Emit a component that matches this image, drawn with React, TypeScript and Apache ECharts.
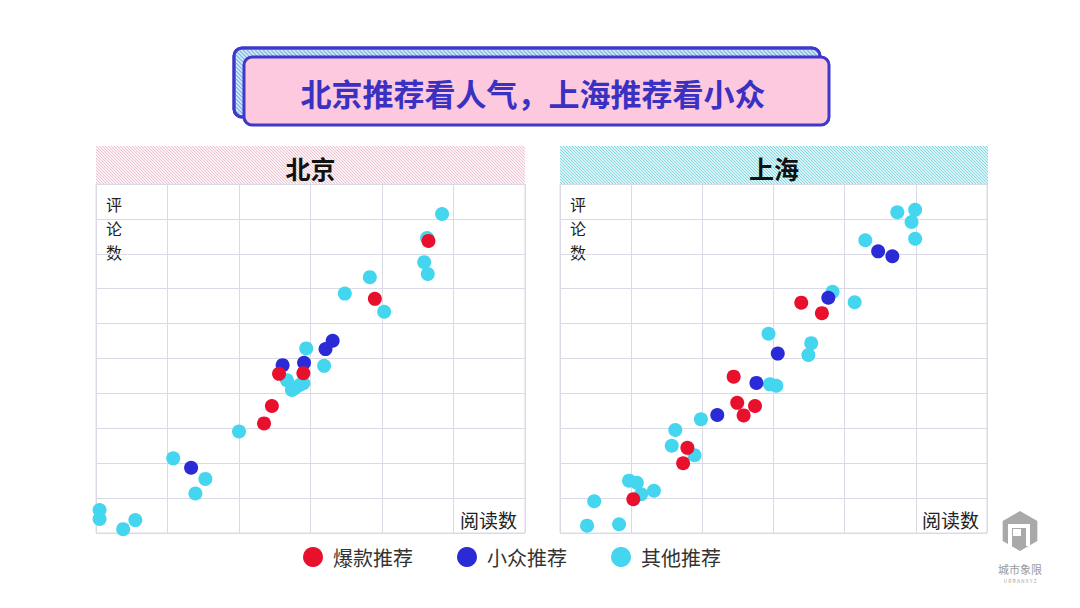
import React, { useEffect, useRef } from "react";
import * as echarts from "echarts";

const TITLE = "北京推荐看人气，上海推荐看小众";
const CITIES = ["北京", "上海"];
const SERIES_NAMES = ["爆款推荐", "小众推荐", "其他推荐"];
const X_LABEL = "阅读数";
const Y_LABEL = "评论数";

// [阅读数, 评论数] in grid units
const bjHot = [[4.65, 8.37], [3.9, 6.71], [2.56, 4.56], [2.9, 4.58], [2.46, 3.64], [2.35, 3.14]];
const bjNiche = [[3.31, 5.51], [3.21, 5.27], [2.61, 4.81], [2.91, 4.88], [1.33, 1.87]];
const bjOther = [
  [4.84, 9.14], [4.63, 8.45], [4.59, 7.76], [4.64, 7.42], [3.83, 7.33], [3.48, 6.86], [4.03, 6.34],
  [2.94, 5.29], [3.19, 4.79], [2.67, 4.38], [2.74, 4.1], [2.85, 4.24], [2.9, 4.29], [2.78, 4.15],
  [2.0, 2.91], [1.08, 2.14], [1.53, 1.55], [1.39, 1.13], [0.05, 0.66], [0.05, 0.4], [0.55, 0.37], [0.38, 0.11],
];
const shHot = [[3.39, 6.6], [3.68, 6.3], [2.44, 4.48], [2.49, 3.73], [2.74, 3.64], [2.58, 3.37], [1.79, 2.44], [1.73, 2.0], [1.03, 0.97]];
const shNiche = [[4.47, 8.07], [4.67, 7.93], [3.77, 6.74], [3.06, 5.14], [2.76, 4.3], [2.21, 3.38]];
const shOther = [
  [4.74, 9.19], [4.99, 9.26], [4.94, 8.91], [4.99, 8.43], [4.29, 8.39], [3.83, 6.91], [4.14, 6.61],
  [2.93, 5.71], [3.53, 5.44], [3.49, 5.1], [2.95, 4.26], [3.04, 4.22], [1.98, 3.26], [1.62, 2.95],
  [1.57, 2.5], [1.89, 2.23], [0.97, 1.5], [1.08, 1.44], [1.14, 1.11], [1.32, 1.21], [0.48, 0.91],
  [0.38, 0.21], [0.83, 0.25],
];

const COLORS = ["#e8102d", "#2a2ad6", "#44d5ef"];
const FONT = "'Noto Sans CJK SC', 'Noto Sans', sans-serif";
const GRID_COLOR = "#dadae4";

function hatch(x: number, y: number, w: number, h: number, step: number, color: string, lw: number) {
  const out: any[] = [];
  for (let t = -h; t < w; t += step) {
    let x0 = x + t, y0 = y;
    if (t < 0) { x0 = x; y0 = y - t; }
    let x1 = x + t + h, y1 = y + h;
    if (t + h > w) { x1 = x + w; y1 = y + (w - t); }
    out.push({ type: "line", silent: true, shape: { x1: x0, y1: y0, x2: x1, y2: y1 }, style: { stroke: color, lineWidth: lw } });
  }
  return out;
}

export default function App() {
  const ref = useRef<HTMLDivElement>(null);
  useEffect(() => {
    const chart = echarts.init(ref.current!, null, { renderer: "svg" });
    const grids = [
      { left: 96, top: 184, width: 429, height: 349 },
      { left: 560, top: 184, width: 427, height: 349 },
    ];
    const data = [[bjHot, bjNiche, bjOther], [shHot, shNiche, shOther]];
    const series: any[] = [];
    [0, 1].forEach((g) => {
      [2, 1, 0].forEach((k) => {
        series.push({
          type: "scatter",
          name: SERIES_NAMES[k],
          xAxisIndex: g,
          yAxisIndex: g,
          symbolSize: 14,
          clip: false,
          itemStyle: { color: COLORS[k], opacity: 1 },
          data: data[g][k],
          z: 3 + (2 - k),
        });
      });
    });
    const axisCommon = {
      type: "value",
      axisLabel: { show: false },
      axisTick: { show: false },
      axisLine: { show: false },
      splitLine: { show: true, lineStyle: { color: GRID_COLOR, width: 1 } },
    };
    const graphics: any[] = [];
    // title back box (hatched)
    graphics.push({ type: "rect", shape: { x: 234, y: 48, width: 586, height: 69, r: 8 }, style: { fill: "#d8ecfa", stroke: "#3f38c9", lineWidth: 3 } });
    graphics.push(...hatch(236, 50, 582, 65, 4, "#7fb6e8", 1.2));
    graphics.push({ type: "rect", shape: { x: 234, y: 48, width: 586, height: 69, r: 8 }, style: { fill: "none", stroke: "#3f38c9", lineWidth: 3 } });
    // title front box
    graphics.push({ type: "rect", shape: { x: 244, y: 57, width: 585, height: 68, r: 8 }, style: { fill: "#fcc9df", stroke: "#3f38c9", lineWidth: 3 } });
    graphics.push({ type: "text", x: 533, y: 92, style: { text: TITLE, font: `bold 31px ${FONT}`, fill: "#3a30c2", align: "center", verticalAlign: "middle" } });
    // panel headers
    const headers = [
      { x: 96, w: 429, base: "#fbf0f4", line: "#ecc4d4" },
      { x: 560, w: 428, base: "#d9f4f6", line: "#86d6df" },
    ];
    headers.forEach((hd, i) => {
      graphics.push({ type: "rect", silent: true, shape: { x: hd.x, y: 146, width: hd.w, height: 39 }, style: { fill: hd.base } });
      graphics.push(...hatch(hd.x, 146, hd.w, 39, 3, hd.line, 1));
      graphics.push({ type: "text", x: hd.x + hd.w / 2, y: 168, style: { text: CITIES[i], font: `bold 25px ${FONT}`, fill: "#111", align: "center", verticalAlign: "middle" } });
      const gl = grids[i];
      Y_LABEL.split("").forEach((ch, j) => {
        graphics.push({ type: "text", x: gl.left + 10, y: 204 + j * 24, style: { text: ch, font: `16px ${FONT}`, fill: "#222", align: "left", verticalAlign: "middle" } });
      });
      graphics.push({ type: "rect", silent: true, shape: { x: gl.left + gl.width - 70, y: 505, width: 66, height: 27 }, style: { fill: "#fff" } });
      graphics.push({ type: "text", x: gl.left + gl.width - 8, y: 519, style: { text: X_LABEL, font: `19px ${FONT}`, fill: "#222", align: "right", verticalAlign: "middle" } });
    });
    // logo
    const cx = 1020, cy = 531, R = 20;
    const hex: number[][] = [];
    for (let i = 0; i < 6; i++) {
      const a = Math.PI / 6 + (i * Math.PI) / 3;
      hex.push([cx + R * Math.cos(a), cy + R * Math.sin(a)]);
    }
    graphics.push({ type: "polygon", shape: { points: hex }, style: { fill: "#a9a9a9" } });
    graphics.push({ type: "polyline", shape: { points: [[1010, 548], [1010, 526], [1028, 526], [1028, 546]] }, style: { stroke: "#fff", lineWidth: 4, fill: "none" } });
    graphics.push({ type: "rect", shape: { x: 1013, y: 529, width: 8, height: 7 }, style: { fill: "#fff" } });
    graphics.push({ type: "text", x: 1020, y: 569, style: { text: "城市象限", font: `11px ${FONT}`, fill: "#9a9a9a", align: "center", verticalAlign: "middle" } });
    graphics.push({ type: "text", x: 1020, y: 580, style: { text: "U R B A N X Y Z", font: `5px ${FONT}`, fill: "#aaa", align: "center", verticalAlign: "middle" } });

    chart.setOption({
      animation: false,
      backgroundColor: "#fff",
      grid: grids.map((g) => ({ ...g, show: true, borderColor: GRID_COLOR, borderWidth: 1, backgroundColor: "transparent" })),
      xAxis: [0, 1].map((i) => ({ ...axisCommon, gridIndex: i, min: 0, max: 6, interval: 1 })),
      yAxis: [0, 1].map((i) => ({ ...axisCommon, gridIndex: i, min: 0, max: 10, interval: 1 })),
      legend: {
        data: SERIES_NAMES,
        left: 298,
        top: 542,
        icon: "circle",
        itemWidth: 20,
        itemHeight: 20,
        itemGap: 44,
        textStyle: { fontSize: 20, color: "#333", fontFamily: FONT, padding: [0, 0, 0, 5] },
      },
      graphic: graphics,
      series,
    });
    return () => chart.dispose();
  }, []);
  return <div ref={ref} style={{ position: "fixed", left: 0, top: 0, width: 1080, height: 608 }} />;
}
